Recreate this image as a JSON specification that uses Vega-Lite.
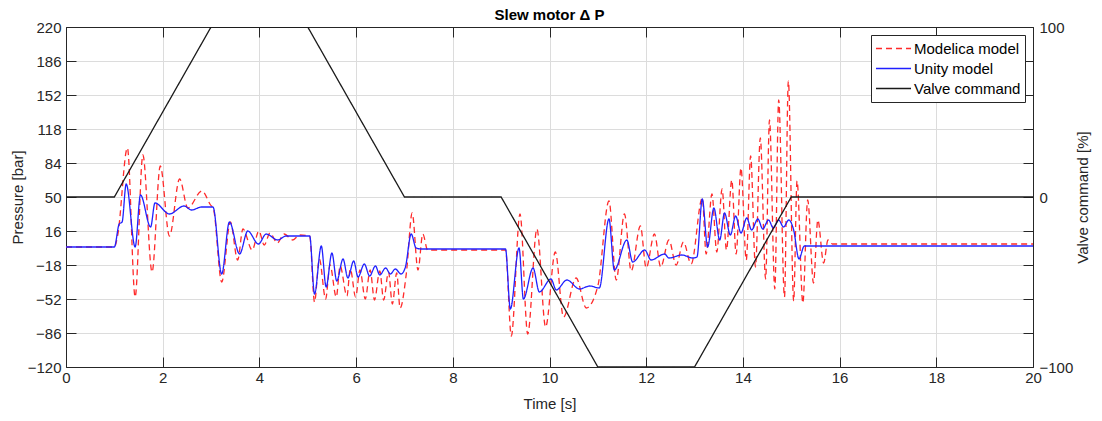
{
  "$schema": "https://vega.github.io/schema/vega-lite/v6.json",
  "width": 967,
  "height": 340,
  "autosize": {"type": "none"},
  "padding": {"left": 66, "top": 27, "right": 69, "bottom": 54},
  "background": "white",
  "title": {"text": "Slew motor Δ P", "fontSize": 15, "fontWeight": "bold", "font": "Liberation Sans", "color": "#000000", "offset": -3, "anchor": "middle"},
  "config": {
    "view": {"stroke": null},
    "font": "Liberation Sans",
    "axis": {
      "domainColor": "#262626", "domainWidth": 1,
      "tickColor": "#262626", "tickSize": -10, "tickWidth": 1,
      "labelColor": "#262626", "labelFontSize": 15, "labelFont": "Liberation Sans",
      "titleColor": "#262626", "titleFontSize": 15, "titleFont": "Liberation Sans", "titleFontWeight": "normal",
      "gridColor": "#dcdcdc", "gridWidth": 1
    },
    "legend": {
      "orient": "top-right", "offset": 8, "title": null,
      "symbolType": "stroke", "symbolSize": 1225, "symbolStrokeWidth": 1.3,
      "labelFontSize": 15, "labelFont": "Liberation Sans", "labelColor": "#000000", "labelOffset": 2,
      "strokeColor": "#262626", "fillColor": "#ffffff", "padding": 4,
      "clipHeight": 19, "rowPadding": 1
    }
  },
  "datasets": {
    "pressure": [
      {"t":0,"p":0,"series":"Modelica model"},{"t":1.0,"p":0,"series":"Modelica model"},{"t":1.07,"p":12,"series":"Modelica model"},{"t":1.27,"p":99,"series":"Modelica model"},{"t":1.43,"p":-50,"series":"Modelica model"},{"t":1.59,"p":92,"series":"Modelica model"},{"t":1.78,"p":-25,"series":"Modelica model"},{"t":1.95,"p":81,"series":"Modelica model"},{"t":2.14,"p":11,"series":"Modelica model"},{"t":2.35,"p":68,"series":"Modelica model"},{"t":2.52,"p":39,"series":"Modelica model"},{"t":2.81,"p":56,"series":"Modelica model"},{"t":2.99,"p":42,"series":"Modelica model"},{"t":3.05,"p":38,"series":"Modelica model"},{"t":3.22,"p":-35,"series":"Modelica model"},{"t":3.4,"p":25,"series":"Modelica model"},{"t":3.55,"p":-13,"series":"Modelica model"},{"t":3.66,"p":18,"series":"Modelica model"},{"t":3.85,"p":-3,"series":"Modelica model"},{"t":3.99,"p":16,"series":"Modelica model"},{"t":4.1,"p":2,"series":"Modelica model"},{"t":4.22,"p":14,"series":"Modelica model"},{"t":4.37,"p":4,"series":"Modelica model"},{"t":4.51,"p":13,"series":"Modelica model"},{"t":4.69,"p":7,"series":"Modelica model"},{"t":4.83,"p":12,"series":"Modelica model"},{"t":5.04,"p":11,"series":"Modelica model"},{"t":5.14,"p":-55,"series":"Modelica model"},{"t":5.24,"p":-12,"series":"Modelica model"},{"t":5.37,"p":-52,"series":"Modelica model"},{"t":5.46,"p":-18,"series":"Modelica model"},{"t":5.59,"p":-50,"series":"Modelica model"},{"t":5.67,"p":-19,"series":"Modelica model"},{"t":5.81,"p":-49,"series":"Modelica model"},{"t":5.88,"p":-22,"series":"Modelica model"},{"t":5.99,"p":-50,"series":"Modelica model"},{"t":6.08,"p":-23,"series":"Modelica model"},{"t":6.19,"p":-52,"series":"Modelica model"},{"t":6.29,"p":-23,"series":"Modelica model"},{"t":6.38,"p":-53,"series":"Modelica model"},{"t":6.49,"p":-24,"series":"Modelica model"},{"t":6.57,"p":-53,"series":"Modelica model"},{"t":6.67,"p":-25,"series":"Modelica model"},{"t":6.75,"p":-57,"series":"Modelica model"},{"t":6.84,"p":-26,"series":"Modelica model"},{"t":6.91,"p":-61,"series":"Modelica model"},{"t":7.04,"p":-26,"series":"Modelica model"},{"t":7.16,"p":34,"series":"Modelica model"},{"t":7.28,"p":-23,"series":"Modelica model"},{"t":7.38,"p":13,"series":"Modelica model"},{"t":7.48,"p":-3,"series":"Modelica model"},{"t":9.09,"p":-3,"series":"Modelica model"},{"t":9.21,"p":-89,"series":"Modelica model"},{"t":9.39,"p":33,"series":"Modelica model"},{"t":9.55,"p":-87,"series":"Modelica model"},{"t":9.74,"p":18,"series":"Modelica model"},{"t":9.92,"p":-80,"series":"Modelica model"},{"t":10.12,"p":-5,"series":"Modelica model"},{"t":10.29,"p":-70,"series":"Modelica model"},{"t":10.55,"p":-31,"series":"Modelica model"},{"t":10.76,"p":-61,"series":"Modelica model"},{"t":11.0,"p":-39,"series":"Modelica model"},{"t":11.23,"p":46,"series":"Modelica model"},{"t":11.38,"p":-33,"series":"Modelica model"},{"t":11.55,"p":33,"series":"Modelica model"},{"t":11.69,"p":-24,"series":"Modelica model"},{"t":11.88,"p":21,"series":"Modelica model"},{"t":12.0,"p":-21,"series":"Modelica model"},{"t":12.17,"p":13,"series":"Modelica model"},{"t":12.3,"p":-20,"series":"Modelica model"},{"t":12.47,"p":7,"series":"Modelica model"},{"t":12.62,"p":-18,"series":"Modelica model"},{"t":12.77,"p":5,"series":"Modelica model"},{"t":12.93,"p":-17,"series":"Modelica model"},{"t":13.16,"p":49,"series":"Modelica model"},{"t":13.24,"p":-7,"series":"Modelica model"},{"t":13.36,"p":53,"series":"Modelica model"},{"t":13.46,"p":-5,"series":"Modelica model"},{"t":13.57,"p":58,"series":"Modelica model"},{"t":13.66,"p":-3,"series":"Modelica model"},{"t":13.77,"p":67,"series":"Modelica model"},{"t":13.86,"p":-7,"series":"Modelica model"},{"t":13.96,"p":79,"series":"Modelica model"},{"t":14.07,"p":-13,"series":"Modelica model"},{"t":14.16,"p":91,"series":"Modelica model"},{"t":14.26,"p":-20,"series":"Modelica model"},{"t":14.36,"p":109,"series":"Modelica model"},{"t":14.47,"p":-32,"series":"Modelica model"},{"t":14.55,"p":127,"series":"Modelica model"},{"t":14.66,"p":-42,"series":"Modelica model"},{"t":14.74,"p":147,"series":"Modelica model"},{"t":14.86,"p":-50,"series":"Modelica model"},{"t":14.94,"p":166,"series":"Modelica model"},{"t":15.05,"p":-54,"series":"Modelica model"},{"t":15.12,"p":66,"series":"Modelica model"},{"t":15.24,"p":-56,"series":"Modelica model"},{"t":15.34,"p":47,"series":"Modelica model"},{"t":15.46,"p":-36,"series":"Modelica model"},{"t":15.55,"p":27,"series":"Modelica model"},{"t":15.67,"p":-16,"series":"Modelica model"},{"t":15.76,"p":7,"series":"Modelica model"},{"t":15.85,"p":3,"series":"Modelica model"},{"t":20,"p":3,"series":"Modelica model"},
      {"t":0,"p":0,"series":"Unity model"},{"t":1.0,"p":0,"series":"Unity model"},{"t":1.1,"p":23,"series":"Unity model"},{"t":1.16,"p":25,"series":"Unity model"},{"t":1.245,"p":63,"series":"Unity model"},{"t":1.43,"p":0,"series":"Unity model"},{"t":1.54,"p":52,"series":"Unity model"},{"t":1.75,"p":20,"series":"Unity model"},{"t":1.84,"p":44,"series":"Unity model"},{"t":2.14,"p":33,"series":"Unity model"},{"t":2.44,"p":41,"series":"Unity model"},{"t":2.6,"p":37,"series":"Unity model"},{"t":2.8,"p":40,"series":"Unity model"},{"t":3.04,"p":40,"series":"Unity model"},{"t":3.22,"p":-27,"series":"Unity model"},{"t":3.38,"p":25,"series":"Unity model"},{"t":3.59,"p":-7,"series":"Unity model"},{"t":3.76,"p":16,"series":"Unity model"},{"t":3.98,"p":3,"series":"Unity model"},{"t":4.14,"p":13,"series":"Unity model"},{"t":4.38,"p":7,"series":"Unity model"},{"t":4.55,"p":11,"series":"Unity model"},{"t":5.04,"p":11,"series":"Unity model"},{"t":5.14,"p":-47,"series":"Unity model"},{"t":5.28,"p":1,"series":"Unity model"},{"t":5.38,"p":-40,"series":"Unity model"},{"t":5.5,"p":-6,"series":"Unity model"},{"t":5.6,"p":-34,"series":"Unity model"},{"t":5.73,"p":-12,"series":"Unity model"},{"t":5.83,"p":-31,"series":"Unity model"},{"t":5.95,"p":-14,"series":"Unity model"},{"t":6.04,"p":-30,"series":"Unity model"},{"t":6.17,"p":-17,"series":"Unity model"},{"t":6.28,"p":-29,"series":"Unity model"},{"t":6.4,"p":-19,"series":"Unity model"},{"t":6.49,"p":-28,"series":"Unity model"},{"t":6.61,"p":-21,"series":"Unity model"},{"t":6.71,"p":-27,"series":"Unity model"},{"t":6.81,"p":-22,"series":"Unity model"},{"t":6.93,"p":-27,"series":"Unity model"},{"t":7.02,"p":-20,"series":"Unity model"},{"t":7.14,"p":13,"series":"Unity model"},{"t":7.24,"p":-1,"series":"Unity model"},{"t":7.35,"p":-2,"series":"Unity model"},{"t":9.09,"p":-2,"series":"Unity model"},{"t":9.19,"p":-62,"series":"Unity model"},{"t":9.37,"p":-1,"series":"Unity model"},{"t":9.46,"p":-52,"series":"Unity model"},{"t":9.66,"p":-21,"series":"Unity model"},{"t":9.79,"p":-45,"series":"Unity model"},{"t":10.03,"p":-32,"series":"Unity model"},{"t":10.14,"p":-43,"series":"Unity model"},{"t":10.36,"p":-33,"series":"Unity model"},{"t":10.62,"p":-42,"series":"Unity model"},{"t":10.83,"p":-39,"series":"Unity model"},{"t":11.03,"p":-41,"series":"Unity model"},{"t":11.23,"p":28,"series":"Unity model"},{"t":11.34,"p":-23,"series":"Unity model"},{"t":11.6,"p":7,"series":"Unity model"},{"t":11.72,"p":-15,"series":"Unity model"},{"t":11.97,"p":-3,"series":"Unity model"},{"t":12.1,"p":-13,"series":"Unity model"},{"t":12.38,"p":-7,"series":"Unity model"},{"t":12.47,"p":-11,"series":"Unity model"},{"t":12.74,"p":-8,"series":"Unity model"},{"t":12.96,"p":-11,"series":"Unity model"},{"t":13.05,"p":-10,"series":"Unity model"},{"t":13.16,"p":48,"series":"Unity model"},{"t":13.27,"p":0,"series":"Unity model"},{"t":13.4,"p":39,"series":"Unity model"},{"t":13.52,"p":7,"series":"Unity model"},{"t":13.62,"p":34,"series":"Unity model"},{"t":13.74,"p":12,"series":"Unity model"},{"t":13.85,"p":31,"series":"Unity model"},{"t":13.96,"p":14,"series":"Unity model"},{"t":14.08,"p":29,"series":"Unity model"},{"t":14.18,"p":17,"series":"Unity model"},{"t":14.31,"p":28,"series":"Unity model"},{"t":14.41,"p":18,"series":"Unity model"},{"t":14.53,"p":27,"series":"Unity model"},{"t":14.63,"p":19,"series":"Unity model"},{"t":14.74,"p":27,"series":"Unity model"},{"t":14.84,"p":20,"series":"Unity model"},{"t":14.95,"p":27,"series":"Unity model"},{"t":15.05,"p":17,"series":"Unity model"},{"t":15.16,"p":-12,"series":"Unity model"},{"t":15.27,"p":1,"series":"Unity model"},{"t":20,"p":1,"series":"Unity model"}
    ],
    "valve": [
      {"t":0,"v":0,"series":"Valve command"},{"t":1,"v":0,"series":"Valve command"},{"t":3,"v":100,"series":"Valve command"},{"t":5,"v":100,"series":"Valve command"},{"t":7,"v":0,"series":"Valve command"},{"t":9,"v":0,"series":"Valve command"},{"t":11,"v":-100,"series":"Valve command"},{"t":13,"v":-100,"series":"Valve command"},{"t":15,"v":0,"series":"Valve command"},{"t":20,"v":0,"series":"Valve command"}
    ]
  },
  "layer": [
    {
      "data": {"name": "pressure"},
      "mark": {"type": "line", "interpolate": "monotone", "strokeWidth": 1.3, "clip": true},
      "encoding": {
        "x": {"field": "t", "type": "quantitative", "scale": {"domain": [0, 20], "nice": false},
              "axis": {"orient": "bottom", "values": [0,2,4,6,8,10,12,14,16,18,20], "title": "Time [s]", "grid": true, "labelPadding": 13, "titlePadding": 11, "labelFlush": false}},
        "y": {"field": "p", "type": "quantitative", "scale": {"domain": [-120, 220], "nice": false, "zero": false},
              "axis": {"orient": "left", "values": [-120,-86,-52,-18,16,50,84,118,152,186,220], "title": "Pressure [bar]", "grid": true, "labelPadding": 15, "titlePadding": 2}},
        "color": {"field": "series", "type": "nominal",
                  "scale": {"domain": ["Modelica model", "Unity model", "Valve command"], "range": ["#ff2a2a", "#2020ff", "#1a1a1a"]}},
        "strokeDash": {"field": "series", "type": "nominal",
                  "scale": {"domain": ["Modelica model", "Unity model", "Valve command"], "range": [[6, 4], [1, 0], [1, 0]]}}
      }
    },
    {
      "data": {"name": "valve"},
      "mark": {"type": "line", "strokeWidth": 1.3, "clip": true},
      "encoding": {
        "x": {"field": "t", "type": "quantitative", "scale": {"domain": [0, 20], "nice": false},
              "axis": {"orient": "top", "values": [0,2,4,6,8,10,12,14,16,18,20], "labels": false, "title": null, "grid": false}},
        "y": {"field": "v", "type": "quantitative", "scale": {"domain": [-100, 100], "nice": false, "zero": false},
              "axis": {"orient": "right", "values": [-100,-80,-60,-40,-20,0,20,40,60,80,100], "labelExpr": "datum.value == 0 || datum.value == 100 || datum.value == -100 ? datum.label : ''", "title": "Valve command [%]", "titleAngle": -90, "titleBaseline": "top", "grid": false, "labelPadding": 16, "titlePadding": 3}},
        "color": {"field": "series", "type": "nominal",
                  "scale": {"domain": ["Modelica model", "Unity model", "Valve command"], "range": ["#ff2a2a", "#2020ff", "#1a1a1a"]}},
        "strokeDash": {"field": "series", "type": "nominal",
                  "scale": {"domain": ["Modelica model", "Unity model", "Valve command"], "range": [[6, 4], [1, 0], [1, 0]]}}
      }
    }
  ],
  "resolve": {"scale": {"y": "independent"}, "axis": {"x": "independent"}}
}
